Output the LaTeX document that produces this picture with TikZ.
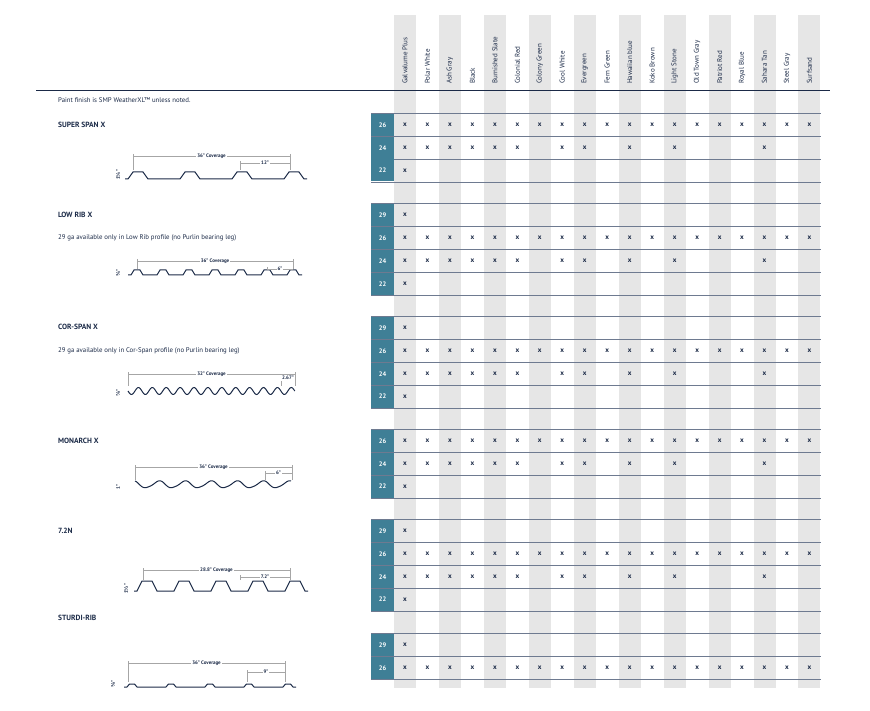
\documentclass[tikz,border=0pt]{standalone}
\usepackage{fontspec}
\setmainfont{PT Sans}
\newfontfamily\fracfont{DejaVu Sans}
\usetikzlibrary{positioning}
\definecolor{navy}{HTML}{1B2A47}
\definecolor{gaugeteal}{HTML}{3F7F96}
\definecolor{stripe}{HTML}{E6E6E6}
\definecolor{rowline}{HTML}{6E7A90}
\tikzset{
  colname/.style={rotate=90, anchor=west, font=\fontsize{7}{8}\selectfont, text=navy, inner sep=0pt},
  gauge/.style={fill=gaugeteal, text=white, minimum width=23pt, minimum height=22pt, inner sep=0pt, font=\bfseries\fontsize{6.5}{7}\selectfont},
  tick/.style={font=\bfseries\fontsize{7}{8}\selectfont, text=navy, inner sep=0pt},
  title/.style={anchor=west, font=\bfseries\fontsize{7.5}{8}\selectfont, text=navy, inner sep=0pt},
  note/.style={anchor=west, font=\fontsize{6.8}{8}\selectfont, text=navy, inner sep=0pt},
  dim/.style={draw=gray!70, line width=0.4pt},
  dimtext/.style={fill=white, font=\bfseries\fontsize{5}{6}\selectfont, text=navy, inner sep=1pt},
  sheet/.style={draw=navy, line width=1pt},
}
% one gauge row: y centre, gauge, list of marked columns, name
\newcommand{\garow}[4]{%
  \draw[rowline, line width=0.6pt] (371,{#1-11.4}) -- (821,{#1-11.4});
  \draw[rowline, line width=0.6pt] (371,{#1+11.4}) -- (821,{#1+11.4});
  \node[gauge] (#4) at (382.5,#1) {#2};
  \foreach \c in {#3} \node[tick] (#4x\c) at ({405+22.47*\c},#1) {x};
}
% trapezoid sheet: x0, pitch, ribs, base y, height, half width
\newcommand{\trapsheet}[6]{%
  \draw[sheet] ({#1-#6-3},#4) \foreach \k in {1,...,#3} {
    -- ({#1+(\k-1)*#2-#6},#4) -- ({#1+(\k-1)*#2-#6/2},{#4-#5})
    -- ({#1+(\k-1)*#2+#6/2},{#4-#5}) -- ({#1+(\k-1)*#2+#6},#4) } -- ++(3,0);
}
% coverage dimension: x0, x1, y, text, sub x0, sub x1, sub y, sub text, base y
\newcommand{\coverage}[9]{%
  \draw[dim] (#1,#3) -- (#2,#3);
  \draw[dim] (#1,{#3-2}) -- (#1,#9);
  \draw[dim] (#2,{#3-2}) -- (#2,#9);
  \node[dimtext] at ({(#1+#2)/2},#3) {#4};
  \draw[dim] (#5,#7) -- (#6,#7);
  \draw[dim] (#5,{#7-2}) -- (#5,#9);
  \node[dimtext] at ({(#5+#6)/2},#7) {#8};
}

\begin{document}
\begin{tikzpicture}[x=1pt, y=-1pt]
  \useasboundingbox (0,0) rectangle (870,711);
  % stripes and headings
  \foreach \c in {0,2,...,18}
    \fill[stripe] ({394+22.47*\c},15) rectangle ({416+22.47*\c},688);
  \foreach \n [count=\i from 0] in {Galvalume Plus,Polar White,Ash Gray,Black,Burnished Slate,Colonial Red,Colony Green,Cool White,Evergreen,Fern Green,Hawaiian blue,Koko Brown,Light Stone,Old Town Gray,Patriot Red,Royal Blue,Sahara Tan,Steel Gray,Surfsand}
    \node[colname] (head\i) at ({405+22.47*\i},84) {\n};
  \draw[navy, line width=0.8pt] (36,90) -- (830,90);
  \node[note] (paint) at (58,100) {Paint finish is SMP WeatherXL™ unless noted.};

  % SUPER SPAN X
  \node[title] (superspan) at (58,125) {SUPER SPAN X};
  \garow{125}{26}{0,...,18}{ss26}
  \garow{148}{24}{0,1,2,3,4,5,7,8,10,12,16}{ss24}
  \garow{170.5}{22}{0}{ss22}
  \trapsheet{138}{52}{4}{179}{7}{10}
  \coverage{133}{290}{156}{36" Coverage}{240}{290}{163}{12"}{170}
  \node[dimtext, rotate=90] at (118,175) {1{\fracfont ¼}"};

  % LOW RIB X
  \node[title] (lowrib) at (58,215) {LOW RIB X};
  \node[note] (lowribnote) at (58,238) {29 ga available only in Low Rib profile (no Purlin bearing leg)};
  \garow{215}{29}{0}{lr29}
  \garow{238}{26}{0,...,18}{lr26}
  \garow{261}{24}{0,1,2,3,4,5,7,8,10,12,16}{lr24}
  \garow{284}{22}{0}{lr22}
  \trapsheet{137}{26}{7}{275}{5}{6}
  \coverage{137}{293}{261}{36" Coverage}{267}{293}{269}{6"}{269}
  \node[dimtext, rotate=90] at (118,273) {{\fracfont ¾}"};

  % COR-SPAN X
  \node[title] (corspan) at (58,327) {COR-SPAN X};
  \node[note] (corspannote) at (58,351) {29 ga available only in Cor-Span profile (no Purlin bearing leg)};
  \garow{328}{29}{0}{cs29}
  \garow{351}{26}{0,...,18}{cs26}
  \garow{374}{24}{0,1,2,3,4,5,7,8,10,12,16}{cs24}
  \garow{396.5}{22}{0}{cs22}
  \draw[sheet] plot[domain=0:12, samples=150] ({128+\x*13.9},{391+3.5*sin(\x*360)});
  \coverage{128}{295}{374}{32" Coverage}{281}{295}{378}{2.67"}{386}
  \node[dimtext, rotate=90] at (118,393) {{\fracfont ⅞}"};

  % MONARCH X
  \node[title] (monarch) at (58,441) {MONARCH X};
  \garow{441}{26}{0,...,18}{mo26}
  \garow{464}{24}{0,1,2,3,4,5,7,8,10,12,16}{mo24}
  \garow{486.5}{22}{0}{mo22}
  \draw[sheet] plot[domain=0:6, samples=150] ({135+\x*26},{487-6*abs(cos(\x*180))^3+1.5*sin(\x*360)});
  \coverage{135}{292}{467}{36" Coverage}{265}{292}{473}{6"}{480}
  \node[dimtext, rotate=90] at (118,487) {1"};

  % 7.2N
  \node[title] (sevenn) at (58,531) {7.2N};
  \garow{531}{29}{0}{sn29}
  \garow{554}{26}{0,...,18}{sn26}
  \garow{577}{24}{0,1,2,3,4,5,7,8,10,12,16}{sn24}
  \garow{599.5}{22}{0}{sn22}
  \trapsheet{147}{37}{5}{591}{10}{10}
  \coverage{143}{290}{570}{28.8" Coverage}{240}{290}{577}{7.2"}{580}
  \node[dimtext, rotate=90] at (126,589) {1{\fracfont ½}"};

  % STURDI-RIB
  \node[title] (sturdirib) at (58,618) {STURDI-RIB};
  \garow{645}{29}{0}{sr29}
  \garow{668}{26}{0,...,18}{sr26}
  \trapsheet{132}{39}{5}{687}{3}{5}
  \coverage{128}{285}{663}{36" Coverage}{247}{285}{672}{9"}{682}
  \node[dimtext, rotate=90] at (113,684) {{\fracfont ⅜}"};
\end{tikzpicture}
\end{document}
